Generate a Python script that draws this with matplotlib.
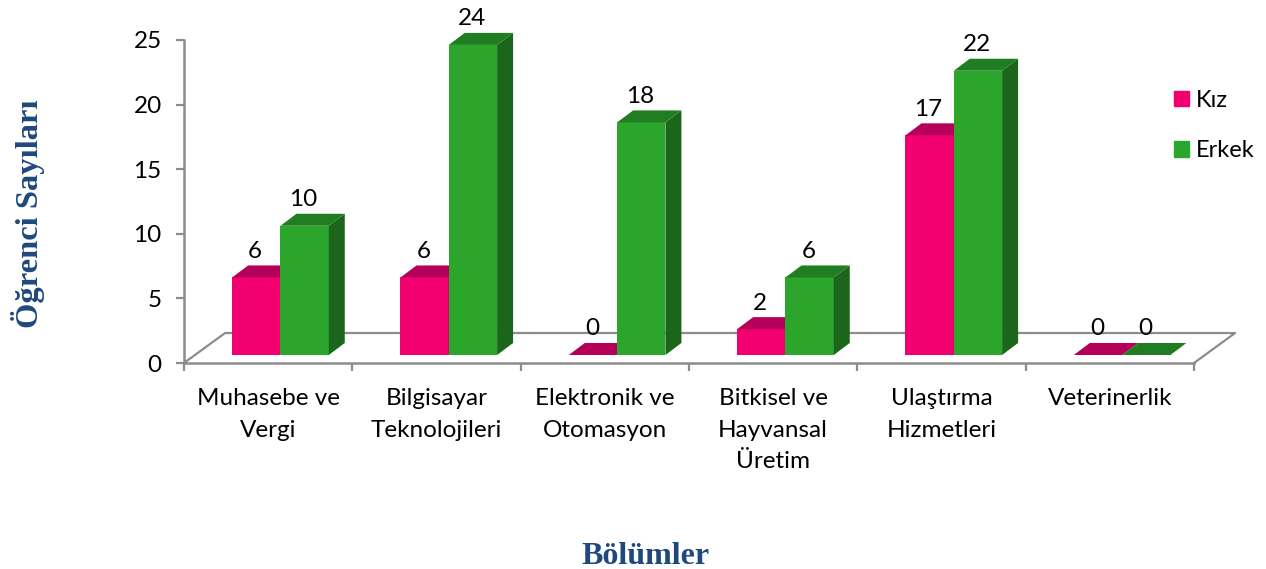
"""Grouped pseudo-3D bar chart: student counts per department."""
import matplotlib
matplotlib.use("Agg")
import matplotlib.pyplot as plt
from matplotlib.patches import Patch, Polygon

categories = ["Muhasebe ve\nVergi", "Bilgisayar\nTeknolojileri", "Elektronik ve\nOtomasyon",
              "Bitkisel ve\nHayvansal\nÜretim", "Ulaştırma\nHizmetleri", "Veterinerlik"]
kiz = [6, 6, 0, 2, 17, 0]
erkek = [10, 24, 18, 6, 22, 0]
y_ticks = [0, 5, 10, 15, 20, 25]

PINK = ("#F2006F", "#B5005A", "#8E0047")
GREEN = ("#2CA52C", "#217D21", "#1B661B")
GRAY = "#8C8C8C"
NAVY = "#1F497D"

# depth of the fake 3D, in data units (x: one category = 1, y: one student = 1)
BAR_W = 0.287
BAR_START = 0.286
BASE = 0.62
DX, DY = 0.095, 0.93
FLOOR_DX, FLOOR_DY = 0.244, 2.32

plt.rcParams["font.family"] = "Lato"
fig = plt.figure(figsize=(12.66, 5.69), dpi=100)
ax = fig.add_axes([184 / 1266, (569 - 363) / 569, 1010 / 1266, 323 / 569])
ax.set_xlim(0, 6)
ax.set_ylim(0, 25)


def draw_box(left, value, colors, z):
    """Front face with ax.bar, top and side faces as polygons."""
    front, top, side = colors
    right = left + BAR_W
    peak = BASE + value
    if value > 0:
        ax.bar(left, value, BAR_W, bottom=BASE, align="edge", color=front,
               zorder=z, clip_on=False)
        ax.add_patch(Polygon([(right, BASE), (right + DX, BASE + DY), (right + DX, peak + DY), (right, peak)],
                             closed=True, color=side, lw=0, zorder=z, clip_on=False))
    ax.add_patch(Polygon([(left, peak), (left + DX, peak + DY), (right + DX, peak + DY), (right, peak)],
                         closed=True, color=top, lw=0, zorder=z, clip_on=False))


# floor lines behind the bars
ax.plot([0, FLOOR_DX, 6 + FLOOR_DX, 6], [0, FLOOR_DY, FLOOR_DY, 0], color=GRAY, lw=1.6,
        zorder=1, clip_on=False)

for i in range(len(categories)):
    x_k = i + BAR_START
    x_e = x_k + BAR_W
    draw_box(x_k, kiz[i], PINK, 3 + i * 2)
    draw_box(x_e, erkek[i], GREEN, 4 + i * 2)
    for x, v in ((x_k, kiz[i]), (x_e, erkek[i])):
        ax.annotate(str(v), (x + BAR_W / 2, BASE + v), xytext=(-0.8, 18.8), textcoords="offset points",
                    ha="center", va="center", fontsize=17.5, color="black", zorder=30)

ax.set_xticks(range(7))
ax.set_xticklabels([])
ax.set_xticks([i + 0.5 for i in range(6)], labels=categories, minor=True, fontsize=17.5, linespacing=1.63)
ax.tick_params(axis="x", which="minor", length=0, pad=18)
ax.tick_params(axis="x", which="major", length=6, width=1.6, color=GRAY)
ax.set_yticks(y_ticks)
ax.tick_params(axis="y", length=6, width=1.6, color=GRAY, labelsize=17.5, pad=10)

for name in ("top", "right"):
    ax.spines[name].set_visible(False)
for name in ("left", "bottom"):
    ax.spines[name].set_color(GRAY)
    ax.spines[name].set_linewidth(1.8)

handles = [Patch(color=PINK[0], label="Kız"), Patch(color=GREEN[0], label="Erkek")]
fig.legend(handles=handles, loc="upper left", bbox_to_anchor=(1174 / 1266, 1 - 90 / 569), frameon=False,
           fontsize=17, handlelength=0.635, handleheight=0.635, handletextpad=0.3,
           labelspacing=1.24, borderpad=0, borderaxespad=0)

fig.text(645 / 1266, 1 - 556 / 569, "Bölümler", ha="center", va="center", color=NAVY,
         fontsize=23, fontweight="bold", family="Liberation Serif")
fig.text(28 / 1266, 1 - 214 / 569, "Öğrenci Sayıları", ha="center", va="center", rotation=90,
         color=NAVY, fontsize=23.4, fontweight="bold", family="Liberation Serif")

fig.savefig("out.png", dpi=100)
plt.close(fig)
